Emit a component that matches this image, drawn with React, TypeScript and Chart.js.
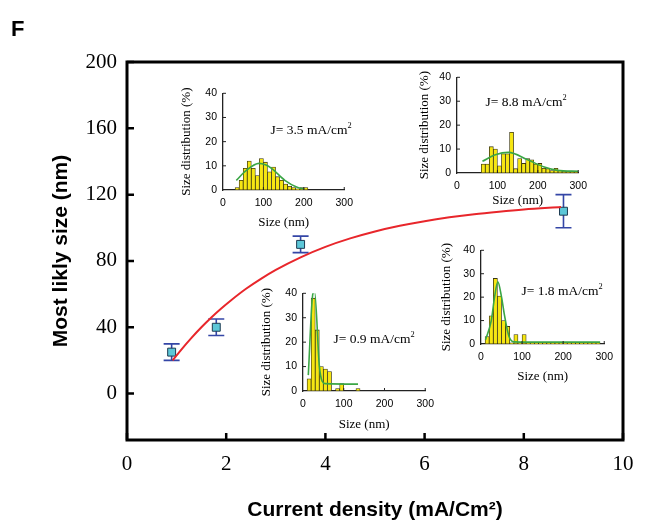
import React, { useEffect, useRef } from "react";
import { Chart, registerables } from "chart.js";

Chart.register(...registerables);

const SERIF = '"Liberation Serif", "Times New Roman", Times, serif';
const SANS = '"Liberation Sans", Arial, Helvetica, sans-serif';

// ---------- main chart data ----------
const currentDensity = [0.9, 1.8, 3.5, 8.8];
const mostLikelySize = [25, 40, 90, 110];
const sizeError = [5, 5, 5, 10];
// fitted curve
const fitDensity = [0.92, 1.1, 1.3, 1.5, 1.7, 1.9, 2.1, 2.4, 2.7, 3.0, 3.5, 4.0, 4.5, 5.0, 5.5, 6.0, 6.5, 7.0, 7.5, 8.0, 8.75];
const fitSize = [20, 26.7, 33.6, 40, 45.9, 51.3, 56.3, 63.2, 69.2, 74.6, 82.2, 88.5, 93.6, 97.8, 101.2, 104, 106.3, 108.2, 109.7, 111, 112.5];
const mainXTicks = [0, 2, 4, 6, 8, 10];
const mainYTicks = [0, 40, 80, 120, 160, 200];

// ---------- inset data ----------
const insetXTicks = [0, 100, 200, 300];
const insetYTicks = [0, 10, 20, 30, 40];

// J = 3.5 mA/cm2
const bins35 = [35, 45, 55, 65, 75, 85, 95, 105, 115, 125, 135, 145, 155, 165, 175, 185, 195, 205];
const dist35 = [1, 4, 9, 12, 9, 6, 13, 11.5, 7.5, 9.5, 5.5, 4, 2.5, 1.5, 1, 0.5, 1, 1];
const fit35X = [33, 57, 89, 105, 121, 153, 185, 200];
const fit35Y = [4, 8, 11, 10.4, 8.8, 4, 1, 0.5];

// J = 8.8 mA/cm2
const bins88 = [65, 75, 85, 95, 105, 115, 125, 135, 145, 155, 165, 175, 185, 195, 205, 215, 225, 235, 245, 255, 265, 275, 285, 295];
const dist88 = [3.75, 3.75, 11, 10, 3, 8, 8, 17, 1.8, 6, 4, 6, 5.5, 3.75, 4, 2, 1.8, 1, 2, 1, 0.8, 0.8, 0.8, 0.8];
const fit88X = [63, 95, 127, 175, 216, 248, 300];
const fit88Y = [4.9, 7.6, 8.6, 5.5, 2.5, 1.1, 0.7];

// J = 0.9 mA/cm2
const bins09 = [15, 25, 35, 45, 55, 65, 75, 85, 95, 105, 115, 125, 135];
const dist09 = [5, 38, 25, 10, 9, 8, 0, 1, 3, 0, 0, 0, 1];
const fit09X = [13, 24.5, 28.5, 40, 47, 55, 135];
const fit09Y = [6.5, 40, 40.5, 10.5, 4, 3, 2.8];

// J = 1.8 mA/cm2
const bins18 = [15, 25, 35, 45, 55, 65, 75, 85, 95, 105, 115, 125, 135, 145, 155, 165, 175, 185, 195, 205, 215, 225, 235, 245, 255, 265, 275, 285];
const dist18 = [3.2, 12, 28, 20.5, 10, 7.5, 0.5, 4, 0.5, 4, 0.5, 0.5, 0.5, 0.5, 0.5, 0.5, 0.5, 0.5, 0.5, 0.5, 0.5, 0.5, 0.5, 0.5, 0.5, 0.5, 0.5, 0.5];
const fit18X = [11, 25, 33, 41, 50, 57, 68, 80, 120, 200, 290];
const fit18Y = [1.8, 10, 20, 26.5, 20, 12.4, 3.3, 0.9, 0.8, 0.8, 0.8];

// ---------- plugins ----------
const frameTicksPlugin = {
  id: "frameTicks",
  afterDatasetsDraw(chart: any, _args: any, opts: any) {
    const { ctx, chartArea, scales } = chart;
    ctx.save();
    ctx.strokeStyle = opts.color || "#000";
    ctx.lineWidth = opts.tickWidth || 1;
    ctx.lineCap = "butt";
    ctx.beginPath();
    for (const v of opts.xTicks || []) {
      const px = scales.x.getPixelForValue(v);
      ctx.moveTo(px, chartArea.bottom);
      ctx.lineTo(px, chartArea.bottom - opts.length);
    }
    for (const v of opts.yTicks || []) {
      const py = scales.y.getPixelForValue(v);
      ctx.moveTo(chartArea.left, py);
      ctx.lineTo(chartArea.left + opts.length, py);
    }
    ctx.stroke();
    if (opts.frame) {
      ctx.lineWidth = opts.frameWidth;
      ctx.strokeRect(chartArea.left, chartArea.top, chartArea.right - chartArea.left, chartArea.bottom - chartArea.top);
    }
    ctx.restore();
  },
};

const errorBarsPlugin = {
  id: "errorBars",
  beforeDatasetsDraw(chart: any, _args: any, opts: any) {
    const { ctx, scales } = chart;
    ctx.save();
    ctx.strokeStyle = opts.color;
    ctx.lineWidth = opts.width;
    ctx.beginPath();
    opts.xs.forEach((x: number, i: number) => {
      const px = scales.x.getPixelForValue(x);
      const top = scales.y.getPixelForValue(opts.ys[i] + opts.errs[i]);
      const bot = scales.y.getPixelForValue(opts.ys[i] - opts.errs[i]);
      ctx.moveTo(px, top);
      ctx.lineTo(px, bot);
      ctx.moveTo(px - opts.cap, top);
      ctx.lineTo(px + opts.cap, top);
      ctx.moveTo(px - opts.cap, bot);
      ctx.lineTo(px + opts.cap, bot);
    });
    ctx.stroke();
    ctx.restore();
  },
};

// ---------- main chart ----------
function MainChart() {
  const ref = useRef<HTMLCanvasElement>(null);
  useEffect(() => {
    const chart = new Chart(ref.current as HTMLCanvasElement, {
      type: "line",
      data: {
        datasets: [
          {
            type: "line",
            label: "fit",
            data: fitDensity.map((x, i) => ({ x, y: fitSize[i] })),
            borderColor: "#e8262b",
            borderWidth: 2,
            pointRadius: 0,
            fill: false,
            tension: 0.4,
            cubicInterpolationMode: "monotone",
          } as any,
          {
            type: "scatter",
            label: "Most likly size",
            data: currentDensity.map((x, i) => ({ x, y: mostLikelySize[i] })),
            showLine: false,
            pointStyle: "rect",
            pointRadius: 5.6,
            backgroundColor: "#5cc7d8",
            borderColor: "#1d3b52",
            borderWidth: 1,
          } as any,
        ],
      },
      options: {
        responsive: false,
        animation: false,
        devicePixelRatio: 1,
        layout: { padding: { left: 0, right: 23, top: 62, bottom: 0 } },
        plugins: {
          legend: { display: false },
          tooltip: { enabled: false },
          errorBars: { xs: currentDensity, ys: mostLikelySize, errs: sizeError, color: "#3446a6", width: 1.6, cap: 8 },
          frameTicks: { xTicks: mainXTicks, yTicks: mainYTicks, length: 7, tickWidth: 2.5, frame: true, frameWidth: 3, color: "#000" },
        } as any,
        scales: {
          x: {
            type: "linear",
            min: 0,
            max: 10,
            afterBuildTicks: (s: any) => {
              s.ticks = mainXTicks.map((v) => ({ value: v }));
            },
            afterFit: (s: any) => {
              s.height = 83;
            },
            grid: { display: false, drawTicks: false },
            border: { display: false },
            ticks: { font: { family: SERIF, size: 21 }, color: "#000", padding: 12, maxRotation: 0 },
            title: {
              display: true,
              text: "Current density (mA/Cm²)",
              font: { family: SANS, size: 21, weight: "bold" },
              color: "#000",
              padding: { top: 0, bottom: 0 },
            },
          },
          y: {
            type: "linear",
            min: -28,
            max: 200,
            afterBuildTicks: (s: any) => {
              s.ticks = mainYTicks.map((v) => ({ value: v }));
            },
            afterFit: (s: any) => {
              s.width = 127;
            },
            grid: { display: false, drawTicks: false },
            border: { display: false },
            ticks: { font: { family: SERIF, size: 21 }, color: "#000", padding: 10 },
            title: {
              display: true,
              text: "Most likly size (nm)",
              font: { family: SANS, size: 21, weight: "bold" },
              color: "#000",
              padding: { top: 49, bottom: 0 },
            },
          },
        },
      } as any,
      plugins: [errorBarsPlugin, frameTicksPlugin],
    });
    return () => chart.destroy();
  }, []);
  return (
    <canvas
      ref={ref}
      width={646}
      height={523}
      style={{ position: "absolute", left: 0, top: 0, width: 646, height: 523 }}
    />
  );
}

// ---------- inset histogram ----------
const PAD_L = 50;
const PAD_T = 12;
const PAD_R = 12;
const PAD_B = 45;

type InsetProps = {
  left: number;
  top: number;
  w: number;
  h: number;
  bins: number[];
  dist: number[];
  fitX: number[];
  fitY: number[];
  yTitlePad: number;
  xTitlePad: number;
};

function Inset(p: InsetProps) {
  const ref = useRef<HTMLCanvasElement>(null);
  const cw = p.w + PAD_L + PAD_R;
  const ch = p.h + PAD_T + PAD_B;
  useEffect(() => {
    const chart = new Chart(ref.current as HTMLCanvasElement, {
      type: "bar",
      data: {
        datasets: [
          {
            type: "line",
            label: "fit",
            data: p.fitX.map((x, i) => ({ x, y: p.fitY[i] })),
            borderColor: "#3aa645",
            borderWidth: 1.6,
            pointRadius: 0,
            fill: false,
            cubicInterpolationMode: "monotone",
          } as any,
          {
            type: "bar",
            label: "Size distribution",
            data: p.bins.map((x, i) => ({ x, y: p.dist[i] > 0 ? p.dist[i] : null })),
            backgroundColor: "#f6e612",
            borderColor: "#3b3713",
            borderWidth: 0.8,
            borderSkipped: false,
            barPercentage: 1,
            categoryPercentage: 1,
          } as any,
        ],
      },
      options: {
        responsive: false,
        animation: false,
        devicePixelRatio: 1,
        layout: { padding: { left: 0, right: PAD_R, top: PAD_T, bottom: 0 } },
        plugins: {
          legend: { display: false },
          tooltip: { enabled: false },
          frameTicks: { xTicks: [100, 200, 300], yTicks: [10, 20, 30, 40], length: 3, tickWidth: 1, frame: false, color: "#222" },
        } as any,
        scales: {
          x: {
            type: "linear",
            min: 0,
            max: 300,
            offset: false,
            afterBuildTicks: (s: any) => {
              s.ticks = insetXTicks.map((v) => ({ value: v }));
            },
            afterFit: (s: any) => {
              s.height = PAD_B;
            },
            grid: { display: false, drawTicks: false, offset: false },
            border: { display: true, color: "#222", width: 1.3 },
            ticks: { font: { family: SANS, size: 10.5 }, color: "#000", padding: 7, maxRotation: 0 },
            title: {
              display: true,
              text: "Size (nm)",
              font: { family: SERIF, size: 13 },
              color: "#000",
              padding: { top: 0, bottom: p.xTitlePad },
            },
          },
          y: {
            type: "linear",
            min: 0,
            max: 40,
            afterBuildTicks: (s: any) => {
              s.ticks = insetYTicks.map((v) => ({ value: v }));
            },
            afterFit: (s: any) => {
              s.width = PAD_L;
            },
            grid: { display: false, drawTicks: false },
            border: { display: true, color: "#222", width: 1.3 },
            ticks: { font: { family: SANS, size: 10.5 }, color: "#000", padding: 6 },
            title: {
              display: true,
              text: "Size distribution (%)",
              font: { family: SERIF, size: 13 },
              color: "#000",
              padding: { top: p.yTitlePad, bottom: 0 },
            },
          },
        },
      } as any,
      plugins: [frameTicksPlugin],
    });
    return () => chart.destroy();
  }, []);
  return (
    <canvas
      ref={ref}
      width={cw}
      height={ch}
      style={{ position: "absolute", left: p.left - PAD_L, top: p.top - PAD_T, width: cw, height: ch }}
    />
  );
}

function JLabel({ x, y, value }: { x: number; y: number; value: string }) {
  return (
    <div
      style={{
        position: "absolute",
        left: x,
        top: y,
        transform: "translate(-50%, -50%)",
        whiteSpace: "nowrap",
        fontFamily: SERIF,
        fontSize: 13.5,
        lineHeight: 1,
        color: "#000",
      }}
    >
      J= {value} mA/cm
      <span style={{ fontSize: "0.62em", position: "relative", top: "-0.75em" }}>2</span>
    </div>
  );
}

export default function App() {
  return (
    <div
      style={{
        position: "fixed",
        left: 0,
        top: 0,
        width: 646,
        height: 523,
        background: "#fff",
        overflow: "hidden",
      }}
    >
      <MainChart />
      <Inset left={223} top={93} w={125} h={97} bins={bins35} dist={dist35} fitX={fit35X} fitY={fit35Y} yTitlePad={6} xTitlePad={5} />
      <Inset left={457} top={77} w={125} h={96} bins={bins88} dist={dist88} fitX={fit88X} fitY={fit88Y} yTitlePad={10} xTitlePad={10} />
      <Inset left={303} top={293} w={126} h={98} bins={bins09} dist={dist09} fitX={fit09X} fitY={fit09Y} yTitlePad={6} xTitlePad={4} />
      <Inset left={481} top={250} w={127} h={94} bins={bins18} dist={dist18} fitX={fit18X} fitY={fit18Y} yTitlePad={8} xTitlePad={5} />
      <JLabel x={311} y={130} value="3.5" />
      <JLabel x={526} y={102} value="8.8" />
      <JLabel x={374} y={339} value="0.9" />
      <JLabel x={562} y={291} value="1.8" />
      <div
        style={{
          position: "absolute",
          left: 11,
          top: 18,
          fontFamily: SANS,
          fontWeight: "bold",
          fontSize: 22,
          lineHeight: 1,
          color: "#000",
        }}
      >
        F
      </div>
    </div>
  );
}
